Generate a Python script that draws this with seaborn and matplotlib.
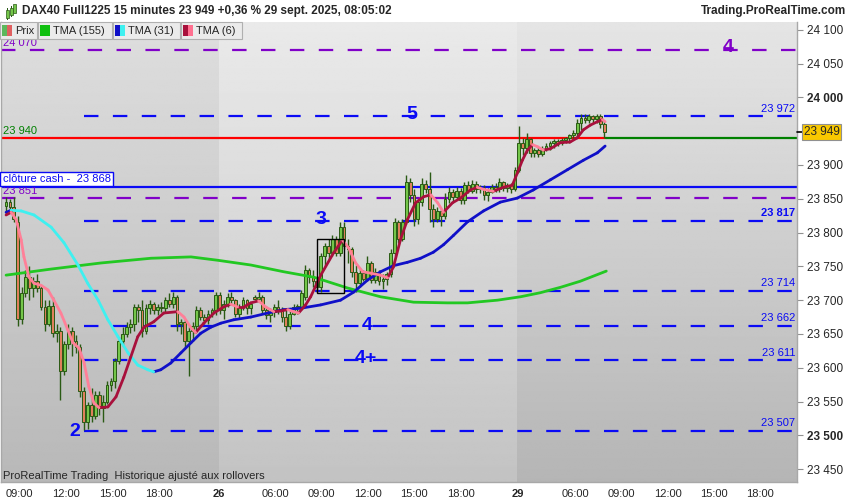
import numpy as np
import pandas as pd
import matplotlib.pyplot as plt
from matplotlib.patches import Rectangle
import seaborn as sns

# 15 minute bars of DAX40 Full1225, bar 0 = 25 sept. 08:15
opens = [23840, 23845, 23838, 23815, 23672, 23710, 23735, 23718, 23728, 23718,
         23690, 23665, 23692, 23652, 23655, 23595, 23635, 23655, 23640, 23630,
         23565, 23520, 23545, 23528, 23560, 23540, 23550, 23575, 23580, 23610,
         23640, 23650, 23660, 23664, 23690, 23685, 23655, 23688, 23695, 23685,
         23690, 23688, 23700, 23695, 23705, 23665, 23668, 23640, 23655, 23662,
         23685, 23675, 23670, 23680, 23685, 23708, 23685, 23695, 23705, 23700,
         23680, 23690, 23700, 23688, 23705, 23702, 23705, 23685, 23678, 23683,
         23690, 23685, 23675, 23662, 23680, 23690, 23688, 23705, 23745, 23735,
         23728, 23720, 23765, 23780, 23770, 23790, 23770, 23808, 23780, 23775,
         23742, 23725, 23740, 23732, 23755, 23730, 23742, 23728, 23732, 23738,
         23770, 23815, 23790, 23815, 23875, 23855, 23820, 23845, 23872, 23865,
         23835, 23820, 23832, 23825, 23850, 23860, 23852, 23862, 23848, 23870,
         23862, 23872, 23864, 23866, 23855, 23860, 23868, 23865, 23875, 23866,
         23870, 23864, 23893, 23932, 23925, 23938, 23918, 23922, 23916, 23924,
         23928, 23932, 23935, 23933, 23937, 23940, 23944, 23948, 23962, 23970,
         23966, 23972, 23968, 23972, 23960]
highs = [23852, 23850, 23852, 23825, 23720, 23745, 23750, 23735, 23738, 23722,
         23700, 23700, 23705, 23665, 23660, 23640, 23665, 23660, 23648, 23635,
         23572, 23550, 23570, 23565, 23565, 23560, 23580, 23585, 23615, 23645,
         23660, 23667, 23672, 23695, 23695, 23700, 23695, 23700, 23697, 23695,
         23698, 23705, 23710, 23712, 23708, 23672, 23672, 23660, 23668, 23692,
         23690, 23680, 23685, 23688, 23712, 23712, 23700, 23710, 23712, 23702,
         23695, 23705, 23702, 23698, 23708, 23712, 23708, 23692, 23688, 23695,
         23700, 23690, 23688, 23685, 23695, 23695, 23715, 23752, 23748, 23745,
         23735, 23770, 23785, 23790, 23797, 23795, 23815, 23815, 23790, 23778,
         23752, 23748, 23745, 23765, 23758, 23748, 23745, 23738, 23742, 23775,
         23822, 23818, 23820, 23885, 23880, 23865, 23850, 23880, 23878, 23890,
         23842, 23838, 23835, 23858, 23868, 23865, 23868, 23866, 23875, 23877,
         23878, 23876, 23870, 23870, 23866, 23872, 23873, 23880, 23876, 23874,
         23874, 23897, 23957, 23940, 23948, 23940, 23925, 23926, 23928, 23932,
         23935, 23938, 23938, 23940, 23942, 23946, 23952, 23968, 23975, 23975,
         23975, 23974, 23976, 23976, 23965]
lows = [23828, 23830, 23815, 23662, 23665, 23705, 23700, 23705, 23712, 23685,
        23655, 23662, 23645, 23638, 23553, 23590, 23628, 23618, 23622, 23557,
        23508, 23510, 23520, 23524, 23530, 23520, 23546, 23565, 23570, 23605,
        23632, 23645, 23652, 23655, 23668, 23645, 23650, 23680, 23680, 23678,
        23682, 23683, 23690, 23688, 23655, 23650, 23630, 23588, 23640, 23655,
        23670, 23665, 23665, 23675, 23678, 23680, 23672, 23690, 23695, 23675,
        23672, 23685, 23680, 23680, 23700, 23698, 23680, 23672, 23668, 23675,
        23680, 23668, 23655, 23658, 23678, 23680, 23685, 23700, 23725, 23720,
        23712, 23712, 23750, 23760, 23765, 23765, 23765, 23775, 23755, 23735,
        23712, 23720, 23728, 23728, 23725, 23725, 23722, 23716, 23722, 23735,
        23765, 23785, 23788, 23812, 23845, 23810, 23812, 23840, 23858, 23815,
        23808, 23815, 23810, 23820, 23843, 23845, 23848, 23842, 23842, 23858,
        23858, 23858, 23858, 23848, 23846, 23858, 23860, 23860, 23862, 23860,
        23858, 23862, 23890, 23915, 23918, 23912, 23912, 23912, 23914, 23920,
        23922, 23925, 23928, 23930, 23932, 23932, 23938, 23942, 23952, 23962,
        23962, 23962, 23962, 23955, 23940]
closes = [23845, 23838, 23820, 23672, 23710, 23735, 23718, 23728, 23718, 23690,
          23665, 23692, 23652, 23655, 23595, 23635, 23655, 23640, 23630, 23565,
          23520, 23545, 23528, 23560, 23540, 23550, 23575, 23580, 23610, 23640,
          23650, 23660, 23664, 23690, 23685, 23655, 23688, 23695, 23685, 23690,
          23688, 23700, 23695, 23705, 23665, 23668, 23640, 23655, 23662, 23685,
          23675, 23670, 23680, 23685, 23708, 23685, 23695, 23705, 23700, 23680,
          23690, 23700, 23688, 23695, 23702, 23705, 23685, 23678, 23683, 23690,
          23685, 23675, 23662, 23680, 23690, 23692, 23710, 23745, 23735, 23728,
          23720, 23765, 23780, 23770, 23790, 23770, 23808, 23780, 23775, 23742,
          23725, 23740, 23732, 23755, 23730, 23742, 23728, 23732, 23738, 23770,
          23815, 23790, 23815, 23875, 23855, 23820, 23845, 23872, 23865, 23835,
          23820, 23832, 23825, 23850, 23860, 23852, 23862, 23848, 23870, 23862,
          23872, 23864, 23866, 23855, 23860, 23868, 23865, 23875, 23866, 23870,
          23864, 23893, 23932, 23925, 23938, 23918, 23922, 23916, 23924, 23928,
          23932, 23935, 23933, 23937, 23940, 23944, 23948, 23962, 23970, 23966,
          23972, 23968, 23972, 23960, 23949]

# moving averages (bar position, value)
tma155_x = [0, 11.6, 24.4, 37.3, 47.6, 54.5, 63, 71.5, 79.2, 87.9,
            96.4, 104.9, 113.6, 118.8, 126.5, 132.4, 137.5, 142.7, 147.8, 154.5]
tma155_y = [23737, 23746, 23755, 23762, 23764, 23759, 23752, 23742, 23734, 23718,
            23705, 23697, 23696, 23696, 23700, 23705, 23711, 23719, 23728, 23743]

tma31_x = [0, 1.3, 3.9, 7.2, 11.6, 14.9, 18.5, 21, 23.7, 26.2,
           28.8, 31.4, 33.9, 36.5, 38, 39.8, 42.4, 45, 47.6, 50.1,
           52.7, 55.3, 58.6, 63, 67.4, 71.5, 75.8, 81, 86.1, 89.5,
           93.1, 96.4, 99.7, 103.3, 106.7, 110, 112.6, 115.2, 118.8, 122.9,
           127.2, 131.6, 135.7, 140.1, 144.5, 148.6, 152.2, 154.2]
tma31_y = [23830, 23833, 23832, 23826, 23808, 23785, 23752, 23725, 23700, 23671,
           23646, 23622, 23604, 23597, 23594, 23597, 23607, 23622, 23637, 23651,
           23660, 23666, 23671, 23675, 23681, 23686, 23688, 23693, 23700, 23712,
           23730, 23742, 23751, 23756, 23762, 23771, 23782, 23796, 23816, 23832,
           23845, 23851, 23863, 23878, 23893, 23907, 23918, 23928]

tma6_x = [0, 1.3, 2.6, 3.9, 4.6, 5.9, 7.2, 9, 10.8, 12.3,
          14.1, 15.9, 17.2, 18.8, 20.1, 21.3, 22.6, 23.9, 26.2, 28.3,
          30.3, 32.1, 33.9, 35.5, 38, 40.6, 44.2, 45.8, 47.6, 48.8,
          50.9, 53.5, 56, 57.8, 59.6, 61.2, 63, 65, 66.8, 68.9,
          70.7, 72.5, 74, 75.3, 77.1, 78.4, 81, 84.3, 86.6, 88.2,
          90, 91.8, 93.8, 96.4, 98.2, 99.7, 101.5, 103.3, 105.4, 107.5,
          109.3, 111.1, 112.6, 114.9, 117, 119.5, 121.3, 122.9, 125.4, 128,
          130.3, 131.6, 132.9, 134.2, 135.5, 136.8, 138.3, 140.1, 142.7, 145.2,
          147, 148.6, 150.4, 152.2, 153.5, 154.2]
tma6_y = [23826, 23830, 23819, 23789, 23764, 23734, 23725, 23722, 23715, 23700,
          23681, 23656, 23637, 23629, 23607, 23572, 23548, 23541, 23542, 23557,
          23586, 23616, 23646, 23660, 23668, 23681, 23683, 23675, 23659, 23652,
          23666, 23681, 23690, 23694, 23690, 23690, 23696, 23699, 23690, 23683,
          23684, 23686, 23683, 23681, 23693, 23705, 23737, 23770, 23789, 23777,
          23755, 23742, 23740, 23737, 23733, 23749, 23789, 23819, 23844, 23853,
          23856, 23844, 23830, 23844, 23851, 23863, 23867, 23864, 23861, 23867,
          23870, 23888, 23907, 23922, 23930, 23927, 23922, 23924, 23933, 23934,
          23940, 23952, 23959, 23964, 23967, 23964]

# drawn levels
blue_levels = [23972, 23817, 23714, 23662, 23611, 23507]
purple_levels = [24070, 23851]
cash_close = 23868
red_level = 23940
last_price = 23949

# wave counts
wave_text = ['5', '3', '4', '4+', '2']
wave_x = [104.4, 81, 93, 92.5, 17.7]
wave_y = [23975, 23820, 23663, 23614, 23505]

# time axis
tick_pos = [3.3, 15.4, 27.5, 39.3, 54.8, 69.4, 81.2, 93.1, 105.1, 117.0,
            131.6, 146.5, 158.4, 170.4, 182.3, 194.1]
tick_lab = ['09:00', '12:00', '15:00', '18:00', '26', '06:00', '09:00', '12:00',
            '15:00', '18:00', '29', '06:00', '09:00', '12:00', '15:00', '18:00']
price_ticks = [24100, 24050, 24000, 23900, 23850, 23800, 23750, 23700,
               23650, 23600, 23550, 23500, 23450]

sns.set_theme(style='white')
plt.rcParams['font.family'] = ['Liberation Sans', 'DejaVu Sans']

W, H = 850, 500
fig = plt.figure(figsize=(W / 100, H / 100), dpi=100)
fig.patch.set_facecolor('white')
ax = fig.add_axes([0.0012, 0.036, 0.9365, 0.92])

xmin, xmax = -1.3, 203.6
ymin, ymax = 23431, 24111.5

# session shading with vertical gradient
bands = [(xmin, tick_pos[4], 222, 184), (tick_pos[4], tick_pos[10], 234, 195),
         (tick_pos[10], xmax, 229, 181)]
for x0, x1, top, bot in bands:
    grad = np.linspace(top, bot, 256).reshape(-1, 1)
    ax.imshow(grad, cmap='gray', vmin=0, vmax=255, aspect='auto',
              extent=(x0, x1, ymin, ymax), origin='upper', zorder=0,
              interpolation='bilinear')

blue = '#0a0af5'
purple = '#8000c8'

# level lines
for lv in purple_levels:
    ax.axhline(lv, color=purple, lw=1.6, ls=(0, (6.5, 6.5)), zorder=2)
for lv in blue_levels:
    ax.axhline(lv, xmin=0.104, color=blue, lw=1.6, ls=(0, (6.5, 6.5)), zorder=2)
ax.axhline(cash_close, color=blue, lw=1.6, zorder=2)
ax.plot([xmin, 154.3], [red_level, red_level], color='#ff0000', lw=1.6, zorder=2)
ax.plot([154.3, xmax], [red_level, red_level], color='#008000', lw=1.6, zorder=2)

# candles
df = pd.DataFrame({'open': opens, 'high': highs, 'low': lows, 'close': closes})
df['bar'] = np.arange(len(df))
up = df['close'] >= df['open']
wick = '#2a5a14'
ax.vlines(df['bar'], df['low'], df['high'], color=wick, lw=1.0, zorder=3)
ax.bar(df['bar'], (df['close'] - df['open']).abs().clip(lower=1.5),
       bottom=df[['open', 'close']].min(axis=1), width=0.72,
       color=np.where(up, '#74c64a', '#e0805c'), edgecolor=wick,
       linewidth=0.7, zorder=4)


def seg_frame(xs, ys):
    rows = []
    for i in range(len(xs) - 1):
        d = 'up' if ys[i + 1] >= ys[i] else 'down'
        rows.append((xs[i], ys[i], i, d))
        rows.append((xs[i + 1], ys[i + 1], i, d))
    return pd.DataFrame(rows, columns=['x', 'y', 'seg', 'dir'])


sns.lineplot(x=tma155_x, y=tma155_y, color='#22c822', lw=2, ax=ax, zorder=5)
sns.lineplot(data=seg_frame(tma31_x, tma31_y), x='x', y='y', hue='dir',
             units='seg', estimator=None, sort=False, legend=False,
             palette={'up': '#1010c8', 'down': '#3ff0f0'}, lw=2,
             solid_capstyle='round', ax=ax, zorder=5)
sns.lineplot(data=seg_frame(tma6_x, tma6_y), x='x', y='y', hue='dir',
             units='seg', estimator=None, sort=False, legend=False,
             palette={'up': '#a8103c', 'down': '#ff8098'}, lw=2,
             solid_capstyle='round', ax=ax, zorder=6)

# box around the wave 3 start
ax.add_patch(Rectangle((80, 23710.6), 6.9, 80, fill=False, ec='black', lw=1, zorder=7))

# wave labels
for t, x, y in zip(wave_text, wave_x, wave_y):
    ax.text(x, y, t, color=blue, fontsize=14, fontweight='bold',
            ha='center', va='center', zorder=8)
ax.text(185.9, 24074, '4', color=purple, fontsize=14, fontweight='bold',
        ha='center', va='center', zorder=8)


def fmt(v):
    return f'{v:,.0f}'.replace(',', ' ')


# right side level labels
for lv in blue_levels:
    ax.text(203.1, lv + 4, fmt(lv), color=blue, fontsize=8, ha='right', va='bottom',
            fontweight='bold' if lv == 23817 else 'normal', zorder=8)
ax.text(-0.7, red_level + 3, fmt(red_level), color='#008000', fontsize=8, va='bottom', zorder=8)
ax.text(-0.7, 23851 + 3, fmt(23851), color=purple, fontsize=8, va='bottom', zorder=8)
ax.text(-0.7, 24070 + 3, fmt(24070), color=purple, fontsize=8, va='bottom', zorder=8)
ax.text(-0.9, 23879, 'clôture cash -  ' + fmt(cash_close), color=blue, fontsize=8,
        va='center', ha='left', zorder=9,
        bbox=dict(boxstyle='square,pad=0.2', fc='white', ec=blue, lw=1))
ax.text(0.003, 0.013, 'ProRealTime Trading  Historique ajusté aux rollovers',
        transform=ax.transAxes, fontsize=8, va='center', zorder=9)

# axes
ax.set_xlim(xmin, xmax)
ax.set_ylim(ymin, ymax)
ax.set_xlabel('')
ax.set_ylabel('')
ax.yaxis.tick_right()
ax.set_yticks(price_ticks)
ax.set_yticklabels([fmt(v) for v in price_ticks])
for lab, v in zip(ax.get_yticklabels(), price_ticks):
    if v in (24000, 23500):
        lab.set_fontweight('bold')
        lab.set_fontsize(9)
ax.set_xticks(tick_pos)
ax.set_xticklabels(tick_lab)
for lab, t in zip(ax.get_xticklabels(), tick_lab):
    if len(t) == 2:
        lab.set_fontweight('bold')
        lab.set_fontsize(9.5)
ax.tick_params(axis='y', right=True, left=False, length=4, width=0.8,
               color='#909090', pad=3, labelsize=8.5)
ax.tick_params(axis='x', bottom=True, length=0, pad=5, labelsize=8)
for s in ['top']:
    ax.spines[s].set_visible(False)
for s in ['right', 'bottom', 'left']:
    ax.spines[s].set_color('#a8a8a8')
    ax.spines[s].set_linewidth(1)

# last price marker
tr = ax.get_yaxis_transform()
ax.plot([1.0, 1.006], [last_price, last_price], transform=tr, color='black',
        lw=1.2, clip_on=False, zorder=9)
ax.text(1.0085, last_price, fmt(last_price), transform=tr, fontsize=8.5,
        va='center', ha='left', zorder=9,
        bbox=dict(boxstyle='square,pad=0.15', fc='#f8c800', ec='#909090', lw=0.8))


# header and legend
def fig_rect(x0, y0, x1, y1, **kw):
    fig.add_artist(Rectangle((x0 / W, 1 - y1 / H), (x1 - x0) / W, (y1 - y0) / H,
                             transform=fig.transFigure, **kw))


fig.text(22 / W, 1 - 11 / H, 'DAX40 Full1225 15 minutes 23 949 +0,36 % 29 sept. 2025, 08:05:02',
         fontsize=8.5, fontweight='bold', va='center', ha='left')
fig.text(846 / W, 1 - 11 / H, 'Trading.ProRealTime.com', fontsize=8.5,
         fontweight='bold', va='center', ha='right')
for cx, y0, y1 in [(7, 10, 18), (11, 8, 15), (15, 4, 13)]:
    fig_rect(cx - 0.5, y0 - 2, cx + 0.5, y1 + 2, fc=wick, ec='none')
    fig_rect(cx - 1.5, y0, cx + 1.5, y1, fc='#74c64a', ec=wick, lw=0.5)

legend_boxes = [(0, 37, 'Prix', ['#5cb85c', '#e06060']),
                (38, 112, 'TMA (155)', ['#10c010']),
                (113, 180, 'TMA (31)', ['#1010c8', '#3ff0f0']),
                (181, 242, 'TMA (6)', ['#a8103c', '#ff7090'])]
for x0, x1, name, cols in legend_boxes:
    fig_rect(x0, 22, x1, 39, fc='#ebebeb', ec='#b0b0b0', lw=0.8)
    cw = 10 / len(cols)
    for k, c in enumerate(cols):
        fig_rect(x0 + 2 + k * cw, 25.5, x0 + 2 + (k + 1) * cw, 35.5, fc=c, ec='none')
    fig.text((x0 + 15) / W, 1 - 30.5 / H, name, fontsize=8, va='center', ha='left')

fig.savefig('out.png', dpi=100)
